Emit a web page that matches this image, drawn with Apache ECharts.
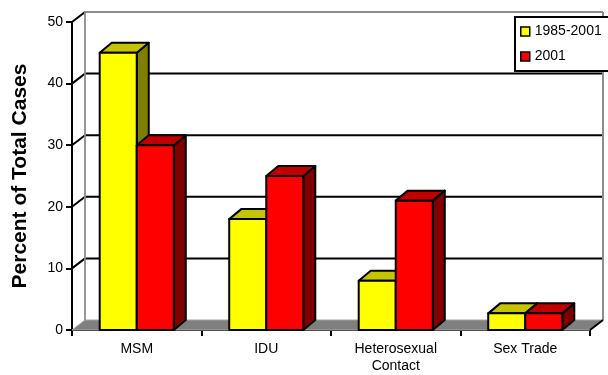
<!DOCTYPE html>
<html>
<head>
<meta charset="utf-8">
<script src="https://cdn.jsdelivr.net/npm/echarts@6.0.0/dist/echarts.min.js"></script>
<style>
  html, body { margin: 0; padding: 0; background: #ffffff; }
  #chart { width: 608px; height: 375px; }
</style>
</head>
<body>
<div id="chart"></div>
<script>
// Chart data
const categories = ['MSM', 'IDU', 'Heterosexual\nContact', 'Sex Trade'];
const seriesNames = ['1985-2001', '2001'];
const cumulativeValues = [45, 18, 8, 2.7];
const recentValues = [30, 25, 21, 2.7];
const yTickValues = [0, 10, 20, 30, 40, 50];
const yAxisTitle = 'Percent of Total Cases';

// 3D look: depth offsets for the walls and for the bars
const WALL_DX = 13, WALL_DY = -10;
const BAR_DX = 12, BAR_DY = -10;
const BAR_FRACTION = 0.286;
const FONT = '"Liberation Sans", Arial, sans-serif';

const yMin = yTickValues[0];
const yMax = yTickValues[yTickValues.length - 1];
const yStep = yTickValues[1] - yTickValues[0];

const palette = [
  { front: '#FFFF00', top: '#C4C400', side: '#808000' },
  { front: '#FF0000', top: '#C00000', side: '#800000' }
];

// Floor, back wall and side-wall gridlines
function renderWalls(params, api) {
  const cs = params.coordSys;
  const left = cs.x, right = cs.x + cs.width;
  const y0 = api.coord([0, yMin])[1];
  const yTop = api.coord([0, yMax])[1];
  const children = [];
  children.push({
    type: 'polygon',
    shape: { points: [[left, y0], [right, y0], [right + WALL_DX, y0 + WALL_DY], [left + WALL_DX, y0 + WALL_DY]] },
    style: { fill: '#7f7f7f', stroke: '#a6a6a6', lineWidth: 1 }
  });
  yTickValues.forEach(function (v) {
    if (v === yMin) return;
    const y = api.coord([0, v])[1];
    const isTop = v === yMax;
    children.push({
      type: 'line',
      shape: { x1: left + WALL_DX, y1: y + WALL_DY, x2: right + WALL_DX, y2: y + WALL_DY },
      style: { stroke: isTop ? '#8c8c8c' : '#000000', lineWidth: 2 }
    });
    children.push({
      type: 'line',
      shape: { x1: left, y1: y, x2: left + WALL_DX, y2: y + WALL_DY },
      style: { stroke: '#000000', lineWidth: 2 }
    });
  });
  children.push({
    type: 'line',
    shape: { x1: left + WALL_DX, y1: yTop + WALL_DY, x2: left + WALL_DX, y2: y0 + WALL_DY },
    style: { stroke: '#8c8c8c', lineWidth: 1.8 }
  });
  children.push({
    type: 'line',
    shape: { x1: right + WALL_DX, y1: yTop + WALL_DY, x2: right + WALL_DX, y2: y0 + WALL_DY },
    style: { stroke: '#8c8c8c', lineWidth: 2 }
  });
  children.push({
    type: 'line',
    shape: { x1: right, y1: y0, x2: right + WALL_DX, y2: y0 + WALL_DY },
    style: { stroke: '#000000', lineWidth: 2 }
  });
  return { type: 'group', children: children };
}

// A box-shaped bar: front face, top face and right side face
function makeBarRenderer(slot) {
  const colors = palette[slot];
  return function (params, api) {
    const i = api.value(0), v = api.value(1);
    const band = api.size([1, 0])[0];
    const w = band * BAR_FRACTION;
    const topPt = api.coord([i, v]);
    const basePt = api.coord([i, yMin]);
    const x0 = topPt[0] + (slot === 0 ? -w : 0);
    const x1 = x0 + w;
    const yt = topPt[1], yb = basePt[1];
    const edge = { stroke: '#000000', lineWidth: 2, lineJoin: 'round' };
    return {
      type: 'group',
      children: [
        {
          type: 'polygon',
          shape: { points: [[x1, yt], [x1 + BAR_DX, yt + BAR_DY], [x1 + BAR_DX, yb + BAR_DY], [x1, yb]] },
          style: Object.assign({ fill: colors.side }, edge)
        },
        {
          type: 'polygon',
          shape: { points: [[x0, yt], [x1, yt], [x1 + BAR_DX, yt + BAR_DY], [x0 + BAR_DX, yt + BAR_DY]] },
          style: Object.assign({ fill: colors.top }, edge)
        },
        {
          type: 'rect',
          shape: { x: x0, y: yt, width: w, height: yb - yt },
          style: Object.assign({ fill: colors.front }, edge)
        }
      ]
    };
  };
}

const seriesValues = [cumulativeValues, recentValues];

const chart = echarts.init(document.getElementById('chart'), null, { renderer: 'canvas' });

chart.setOption({
  animation: false,
  backgroundColor: '#ffffff',
  textStyle: { fontFamily: FONT },
  grid: { left: 72, right: 18, top: 22, bottom: 42, containLabel: false },
  legend: {
    data: seriesNames,
    orient: 'vertical',
    left: 515,
    top: 17,
    padding: [7, 30, 7, 5],
    itemGap: 10,
    itemWidth: 9,
    itemHeight: 9,
    icon: 'rect',
    borderColor: '#000000',
    borderWidth: 2,
    backgroundColor: '#ffffff',
    itemStyle: { borderColor: '#000000', borderWidth: 1.5 },
    textStyle: { fontFamily: FONT, fontSize: 14, color: '#000000', lineHeight: 15 },
    z: 10
  },
  xAxis: {
    type: 'category',
    data: categories,
    boundaryGap: true,
    axisLine: { show: true, lineStyle: { color: '#000000', width: 2 } },
    axisTick: { show: true, interval: 0, length: 6, lineStyle: { color: '#000000', width: 2 } },
    axisLabel: { interval: 0, margin: 11, fontFamily: FONT, fontSize: 14, color: '#000000', lineHeight: 17 },
    splitLine: { show: false }
  },
  yAxis: {
    type: 'value',
    min: yMin,
    max: yMax,
    interval: yStep,
    name: yAxisTitle,
    nameLocation: 'middle',
    nameRotate: 90,
    nameGap: 41,
    nameTextStyle: { fontFamily: FONT, fontSize: 21, fontWeight: 'bold', color: '#000000' },
    axisLine: { show: true, lineStyle: { color: '#000000', width: 2 } },
    axisTick: { show: true, length: 6, lineStyle: { color: '#000000', width: 2 } },
    axisLabel: { margin: 9, fontFamily: FONT, fontSize: 14, color: '#000000' },
    splitLine: { show: false }
  },
  series: [
    {
      name: 'walls',
      type: 'custom',
      renderItem: renderWalls,
      data: [[0, 0]],
      encode: { x: 0, y: 1 },
      silent: true,
      z: 1
    },
    {
      name: seriesNames[0],
      type: 'custom',
      renderItem: makeBarRenderer(0),
      data: categories.map(function (c, i) { return [i, seriesValues[0][i]]; }),
      encode: { x: 0, y: 1 },
      itemStyle: { color: palette[0].front },
      z: 3
    },
    {
      name: seriesNames[1],
      type: 'custom',
      renderItem: makeBarRenderer(1),
      data: categories.map(function (c, i) { return [i, seriesValues[1][i]]; }),
      encode: { x: 0, y: 1 },
      itemStyle: { color: palette[1].front },
      z: 4
    }
  ]
});
</script>
</body>
</html>
